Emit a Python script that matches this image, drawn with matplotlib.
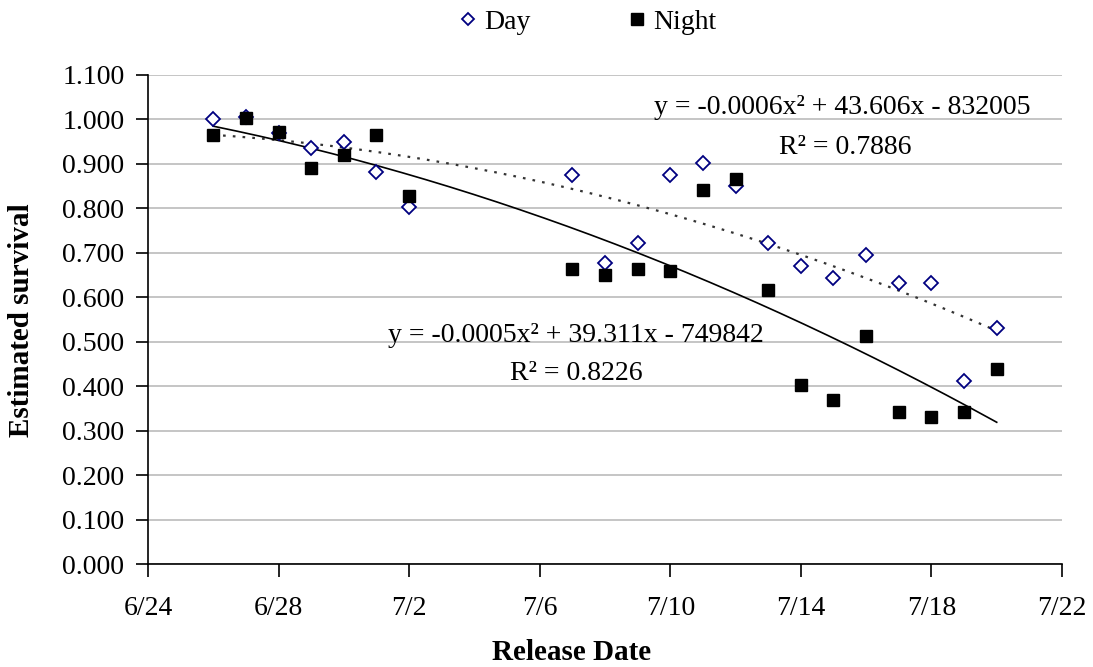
import numpy as np
import pandas as pd
import matplotlib
matplotlib.use("Agg")
import matplotlib.pyplot as plt
import matplotlib.dates as mdates
from matplotlib.lines import Line2D

release_dates = ["6/26", "6/27", "6/28", "6/29", "6/30", "7/1", "7/2",
                 "7/7", "7/8", "7/9", "7/10", "7/11", "7/12", "7/13",
                 "7/14", "7/15", "7/16", "7/17", "7/18", "7/19", "7/20"]
day_surv = [1.002, 1.005, 0.970, 0.935, 0.950, 0.881, 0.802,
            0.876, 0.676, 0.723, 0.874, 0.903, 0.851, 0.721,
            0.671, 0.644, 0.696, 0.631, 0.631, 0.412, 0.532]
night_surv = [0.965, 1.003, 0.971, 0.890, 0.921, 0.966, 0.827,
              0.664, 0.649, 0.664, 0.658, 0.842, 0.867, 0.617,
              0.403, 0.369, 0.514, 0.342, 0.331, 0.342, 0.439]

day_eq = "y = -0.0006x² + 43.606x - 832005"
day_r2 = "R² = 0.7886"
night_eq = "y = -0.0005x² + 39.311x - 749842"
night_r2 = "R² = 0.8226"

plt.rcParams["font.family"] = ["Liberation Serif", "DejaVu Serif"]

dates = pd.to_datetime([f"1999/{d}" for d in release_dates])
x = mdates.date2num(dates)
x0 = x[0]

fig = plt.figure(figsize=(10.93, 6.67), dpi=100)
ax = fig.add_axes([148/1093, 1-564/667, 914/1093, 489/667])

# quadratic trendlines
xs = np.linspace(x[0], x[-1], 200)
pd_fit = np.polyfit(x - x0, day_surv, 2)
pn_fit = np.polyfit(x - x0, night_surv, 2)
ax.plot(xs, np.polyval(pd_fit, xs - x0), color="#333333", lw=1.6,
        linestyle=(0, (1.2, 3.2)), zorder=3)
ax.plot(xs, np.polyval(pn_fit, xs - x0), color="black", lw=1.2, zorder=3)

ax.plot(x, day_surv, "D", mfc="white", mec="#000080", mew=1.3, ms=7, zorder=4)
ax.plot(x, night_surv, "s", color="black", ms=9, zorder=5)

ax.set_xlim(mdates.date2num(pd.Timestamp("1999-06-24")),
            mdates.date2num(pd.Timestamp("1999-07-22")))
ax.set_ylim(0, 1.1)
ax.set_xticks(mdates.date2num(pd.date_range("1999-06-24", "1999-07-22", freq="4D")))
ax.xaxis.set_major_formatter(plt.FuncFormatter(
    lambda v, p: f"{mdates.num2date(v).month}/{mdates.num2date(v).day}"))
ax.set_yticks(np.arange(0, 1.1001, 0.1))
ax.yaxis.set_major_formatter(plt.FuncFormatter(lambda v, p: f"{v:.3f}"))
ax.tick_params(axis="both", labelsize=20, direction="out", length=9, width=1.2)
ax.tick_params(axis="x", pad=14)
ax.tick_params(axis="y", pad=8)

ax.grid(axis="y", color="#c0c0c0", lw=1.3)
ax.set_axisbelow(True)
for s in ["top", "right"]:
    ax.spines[s].set_visible(False)
for s in ["left", "bottom"]:
    ax.spines[s].set_linewidth(1.2)

fig.text(572/1093, 1-652/667, "Release Date", ha="center", va="center",
         fontsize=21, fontweight="bold")
fig.text(22/1093, 1-320/667, "Estimated survival", ha="center", va="center",
         rotation=90, fontsize=21, fontweight="bold")

fig.text(842/1093, 1-107/667, day_eq, ha="center", va="center", fontsize=20)
fig.text(845/1093, 1-147/667, day_r2, ha="center", va="center", fontsize=20)
fig.text(576/1093, 1-335/667, night_eq, ha="center", va="center", fontsize=20)
fig.text(576/1093, 1-373/667, night_r2, ha="center", va="center", fontsize=20)

handles = [Line2D([], [], marker="D", ls="", mfc="white", mec="#000080", mew=1.3, ms=6.5),
           Line2D([], [], marker="s", ls="", color="black", ms=9)]
fig.legend(handles, ["Day", "Night"], loc="center", ncol=2, frameon=False,
           bbox_to_anchor=(588/1093, 1-22/667), fontsize=20,
           columnspacing=3.5, handlelength=0.6, handletextpad=0.3)

fig.savefig("out.png", dpi=100)
